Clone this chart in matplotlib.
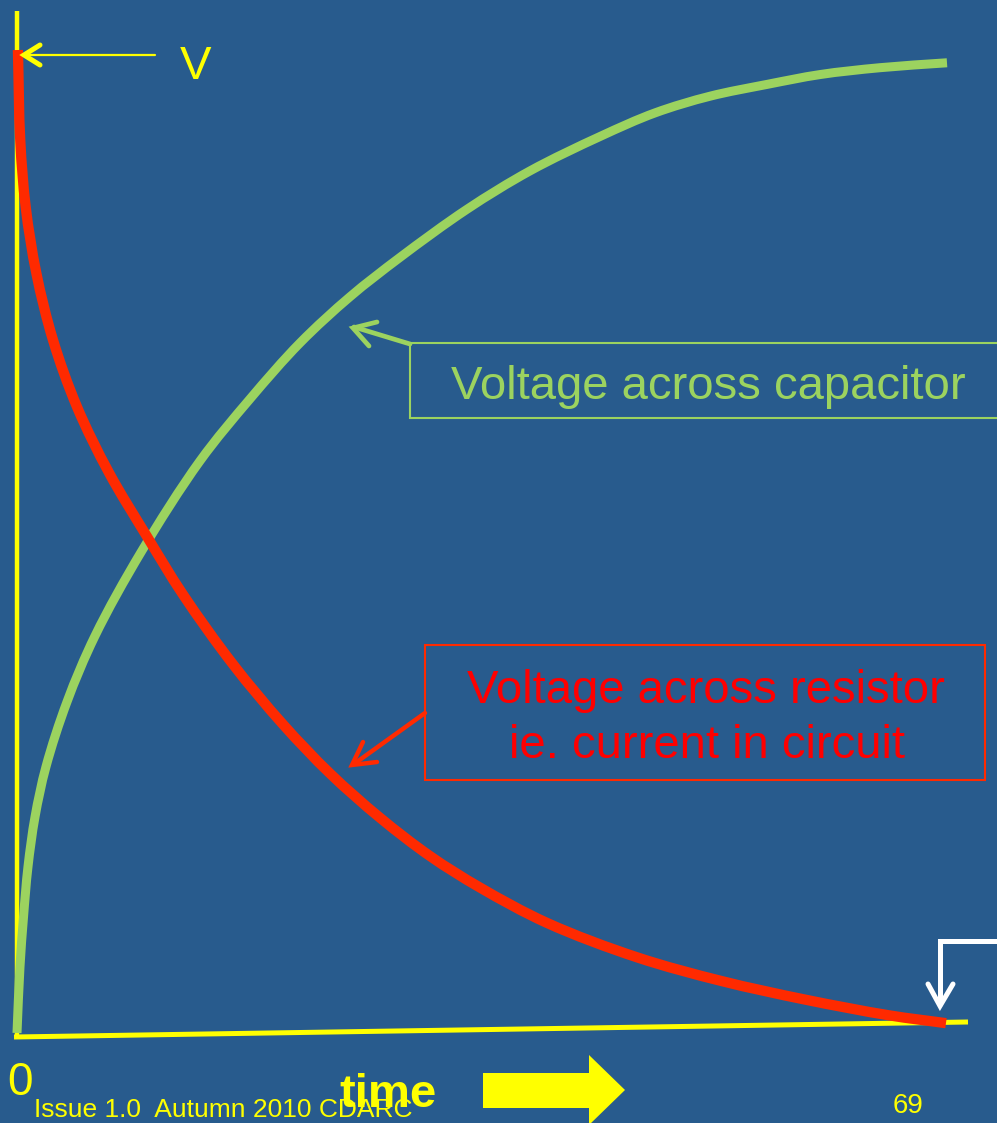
import matplotlib
matplotlib.use("Agg")
import matplotlib.pyplot as plt
import numpy as np
from matplotlib.patches import Rectangle, Polygon, PathPatch
from matplotlib.path import Path

# values: time in arbitrary units (0..10), voltage as fraction of V
t_cap = [0.0, 0.032, 0.07, 0.118, 0.194, 0.312, 0.538, 0.839, 1.333, 1.968, 2.505, 3.043,
         3.581, 4.118, 4.839, 5.516, 6.269, 6.86, 7.452, 8.065, 8.634, 9.28, 10.0]
v_cap = [0.0, 0.067, 0.118, 0.169, 0.22, 0.271, 0.337, 0.404, 0.489, 0.582, 0.645, 0.702,
         0.749, 0.789, 0.838, 0.877, 0.912, 0.936, 0.953, 0.965, 0.975, 0.982, 0.987]

t_res = [0.01, 0.035, 0.094, 0.208, 0.387, 0.645, 0.989, 1.398, 1.785, 2.323, 2.86, 3.366,
         3.903, 4.441, 4.978, 5.699, 6.667, 7.57, 8.473, 9.376, 9.989]
v_res = [1.0, 0.908, 0.84, 0.773, 0.705, 0.637, 0.57, 0.505, 0.446, 0.375, 0.314, 0.264,
         0.219, 0.18, 0.148, 0.112, 0.077, 0.053, 0.034, 0.018, 0.01]

cap_label = "Voltage across capacitor"
res_label = "Voltage across resistor\nie. current in circuit"
footer = "Issue 1.0  Autumn 2010 CDARC"
page_no = "69"

BG = "#285b8d"
YELLOW = "#ffff00"
GREEN = "#9cd35f"
RED_LINE = "#ff2a00"
RED_TEXT = "#ff0000"
FONT = ["Liberation Sans", "DejaVu Sans"]

W, H = 997, 1123
fig = plt.figure(figsize=(W / 100, H / 100), dpi=100, facecolor=BG)

# data axes: t=0 at px 17, t=10 at px 947; v=0 at px 1033, v=1 at px 50
ax = fig.add_axes([17 / W, (H - 1033) / H, 930 / W, 983 / H], zorder=1)
ax.set_xlim(0, 10)
ax.set_ylim(0, 1)
ax.axis("off")

# overlay in pixel units for the slide decorations
lay = fig.add_axes([0, 0, 1, 1], zorder=2)
lay.set_xlim(0, W)
lay.set_ylim(H, 0)
lay.axis("off")
lay.patch.set_alpha(0)


def smooth_path(xs, ys, alpha=0.5):
    # centripetal catmull-rom through the read points, as cubic bezier segments
    p = np.column_stack([xs, ys]).astype(float)
    d = ax.transData.transform(p)
    seg = np.hypot(*np.diff(d, axis=0).T) ** alpha
    knots = np.concatenate([[0], np.cumsum(seg)])
    p = np.vstack([2 * p[0] - p[1], p, 2 * p[-1] - p[-2]])
    knots = np.concatenate([[-seg[0]], knots, [knots[-1] + seg[-1]]])
    n = len(p)
    tang = np.zeros_like(p)
    for i in range(1, n - 1):
        k0, k1, k2 = knots[i - 1], knots[i], knots[i + 1]
        tang[i] = ((p[i] - p[i - 1]) / (k1 - k0) - (p[i + 1] - p[i - 1]) / (k2 - k0)
                   + (p[i + 1] - p[i]) / (k2 - k1))
    verts = [p[1]]
    codes = [Path.MOVETO]
    for i in range(1, n - 2):
        dk = knots[i + 1] - knots[i]
        verts += [p[i] + tang[i] * dk / 3, p[i + 1] - tang[i + 1] * dk / 3, p[i + 1]]
        codes += [Path.CURVE4] * 3
    return Path(verts, codes)


# yellow axis lines (under the curves)
ax.plot([17, 17], [11, 1037], color=YELLOW, lw=3.2, transform=lay.transData,
        clip_on=False, zorder=1, solid_capstyle="butt")
ax.plot([14, 968], [1037, 1022], color=YELLOW, lw=3.6, transform=lay.transData,
        clip_on=False, zorder=1, solid_capstyle="butt")

ax.add_patch(PathPatch(smooth_path(t_cap, v_cap), fill=False, ec=GREEN, lw=6.5,
                       capstyle="butt", joinstyle="round", clip_on=False, zorder=2))
ax.add_patch(PathPatch(smooth_path(t_res, v_res), fill=False, ec=RED_LINE, lw=7.4,
                       capstyle="butt", joinstyle="round", clip_on=False, zorder=3))


def arrow(pts, head, color, lw, head_lw=None):
    xs, ys = zip(*pts)
    lay.plot(xs, ys, color=color, lw=lw, solid_capstyle="round", solid_joinstyle="miter")
    hx, hy = zip(*head)
    lay.plot(hx, hy, color=color, lw=head_lw or lw, solid_capstyle="round",
             solid_joinstyle="miter")


# V marker
arrow([(155, 55), (24, 55)], [(40, 45), (24, 55), (40, 65)], YELLOW, 1.6, 3.6)
lay.text(196, 79, "V", color=YELLOW, fontsize=34, family=FONT, ha="center", va="baseline")

# capacitor label
lay.add_patch(Rectangle((410, 343), 600, 75, fill=False, ec=GREEN, lw=1.5, clip_on=False))
lay.text(708, 399, cap_label, color=GREEN, fontsize=34, family=FONT,
         ha="center", va="baseline")
arrow([(410, 344), (354, 327)], [(377, 322), (353, 328), (369, 346)], GREEN, 3.4)

# resistor label
lay.add_patch(Rectangle((425, 645), 560, 135, fill=False, ec=RED_LINE, lw=1.5))
l1, l2 = res_label.split("\n")
lay.text(706, 703, l1, color=RED_TEXT, fontsize=34, family=FONT, ha="center", va="baseline")
lay.text(707, 758, l2, color=RED_TEXT, fontsize=34, family=FONT, ha="center", va="baseline")
arrow([(425, 713), (354, 764)], [(363, 742), (352, 765), (377, 762)], RED_LINE, 3.2)

# white arrow at the right
arrow([(1000, 941), (940, 941), (940, 1004)], [(928, 984), (940, 1006), (953, 984)],
      "white", 3.6)

# bottom texts
lay.text(20, 1095, "0", color=YELLOW, fontsize=33, family=FONT, ha="center", va="baseline")
lay.text(34, 1117, footer, color=YELLOW, fontsize=19, family=FONT, ha="left", va="baseline")
lay.text(339, 1107, "time", color=YELLOW, fontsize=34, fontweight="bold", family=FONT,
         ha="left", va="baseline")
lay.text(908, 1113, page_no, color=YELLOW, fontsize=20, family=FONT, ha="center",
         va="baseline")
lay.add_patch(Polygon([(483, 1073), (589, 1073), (589, 1055), (625, 1090), (589, 1125),
                       (589, 1108), (483, 1108)], closed=True, fc=YELLOW, ec="none",
                      clip_on=False))

fig.savefig("out.png", dpi=100, facecolor=BG)
